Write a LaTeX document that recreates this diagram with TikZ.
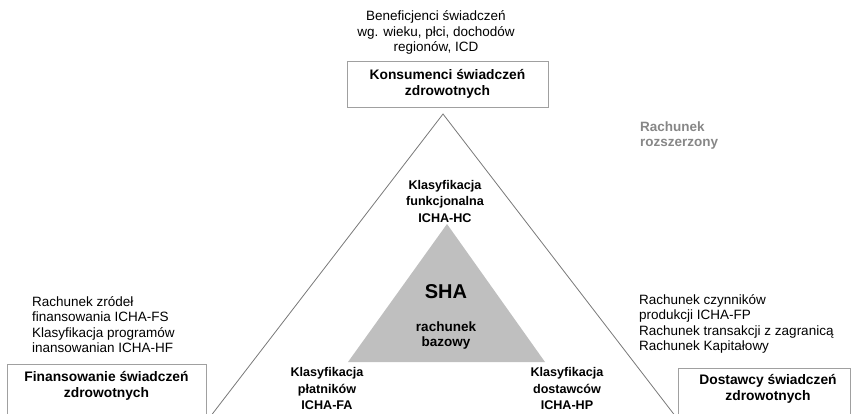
\documentclass[tikz,border=0pt]{standalone}
\usepackage{fontspec}
\setmainfont{Liberation Sans}
\begin{document}
\begin{tikzpicture}[x=1pt,y=-1pt,
  plain/.style={inner sep=0pt,align=center,font=\fontsize{13.5}{15.5}\selectfont},
  plainl/.style={inner sep=0pt,align=left,font=\fontsize{13.5}{15.5}\selectfont},
  boxtext/.style={inner sep=0pt,align=center,font=\bfseries\fontsize{13.8}{16}\selectfont},
  klas/.style={inner sep=0pt,align=center,font=\bfseries\fontsize{12.6}{16.5}\selectfont},
  framebox/.style={draw=boxgray,line width=0.8pt,fill=white,inner sep=0pt}]
\definecolor{boxgray}{RGB}{160,160,160}
\definecolor{linegray}{RGB}{120,120,120}
\definecolor{innergray}{RGB}{191,191,191}
\definecolor{labgray}{RGB}{135,135,135}
\useasboundingbox (0,0) rectangle (851,413);
\clip (0,0) rectangle (851,413);
% outer triangle
\coordinate (oa) at (443,114);
\coordinate (ol) at (200,430);
\coordinate (or) at (686,430);
\draw[linegray,line width=0.8pt] (ol) -- (oa) -- (or);
% inner triangle
\coordinate (ia) at (447,224);
\coordinate (il) at (348,362);
\coordinate (ir) at (545,362);
\fill[innergray] (ia) -- (il) -- (ir) -- cycle;
% boxes
\node[framebox,minimum width=201pt,minimum height=46pt] (konsbox) at (447.5,84) {};
\node[boxtext] (kons) at (447.5,83.5) {Konsumenci świadczeń\\zdrowotnych};
\node[framebox,minimum width=199pt,minimum height=70pt,anchor=north] (finbox) at (106.5,364) {};
\node[boxtext] (fin) at (106.5,386) {Finansowanie świadczeń\\zdrowotnych};
\node[framebox,minimum width=172pt,minimum height=70pt,anchor=north] (dosbox) at (764,368) {};
\node[boxtext] (dos) at (768,389) {Dostawcy świadczeń\\zdrowotnych};
% texts
\node[plain] (benef) at (436,32.5) {Beneficjenci świadczeń\\wg. wieku, płci, dochodów\\regionów, ICD};
\node[inner sep=0pt,align=left,anchor=west,text=labgray,font=\bfseries\fontsize{13.5}{15.5}\selectfont] (rozsz) at (640,135.5) {Rachunek\\rozszerzony};
\node[klas] (funk) at (445,201) {Klasyfikacja\\funkcjonalna\\ICHA-HC};
\node[inner sep=0pt,font=\bfseries\fontsize{20}{22}\selectfont] (sha) at (446,292) {SHA};
\node[inner sep=0pt,align=center,font=\bfseries\fontsize{13.5}{15.5}\selectfont] (baz) at (446,335.5) {rachunek\\bazowy};
\node[klas] (plat) at (327,388.5) {Klasyfikacja\\płatników\\ICHA-FA};
\node[klas] (dost) at (567,388.5) {Klasyfikacja\\dostawców\\ICHA-HP};
\node[plainl,anchor=west] (zrod) at (32,324.5) {Rachunek zródeł\\finansowania ICHA-FS\\Klasyfikacja programów\\inansowanian ICHA-HF};
\node[plainl,anchor=west] (czyn) at (639,324) {Rachunek czynników\\produkcji ICHA-FP\\Rachunek transakcji z zagranicą\\Rachunek Kapitałowy};
\end{tikzpicture}
\end{document}
